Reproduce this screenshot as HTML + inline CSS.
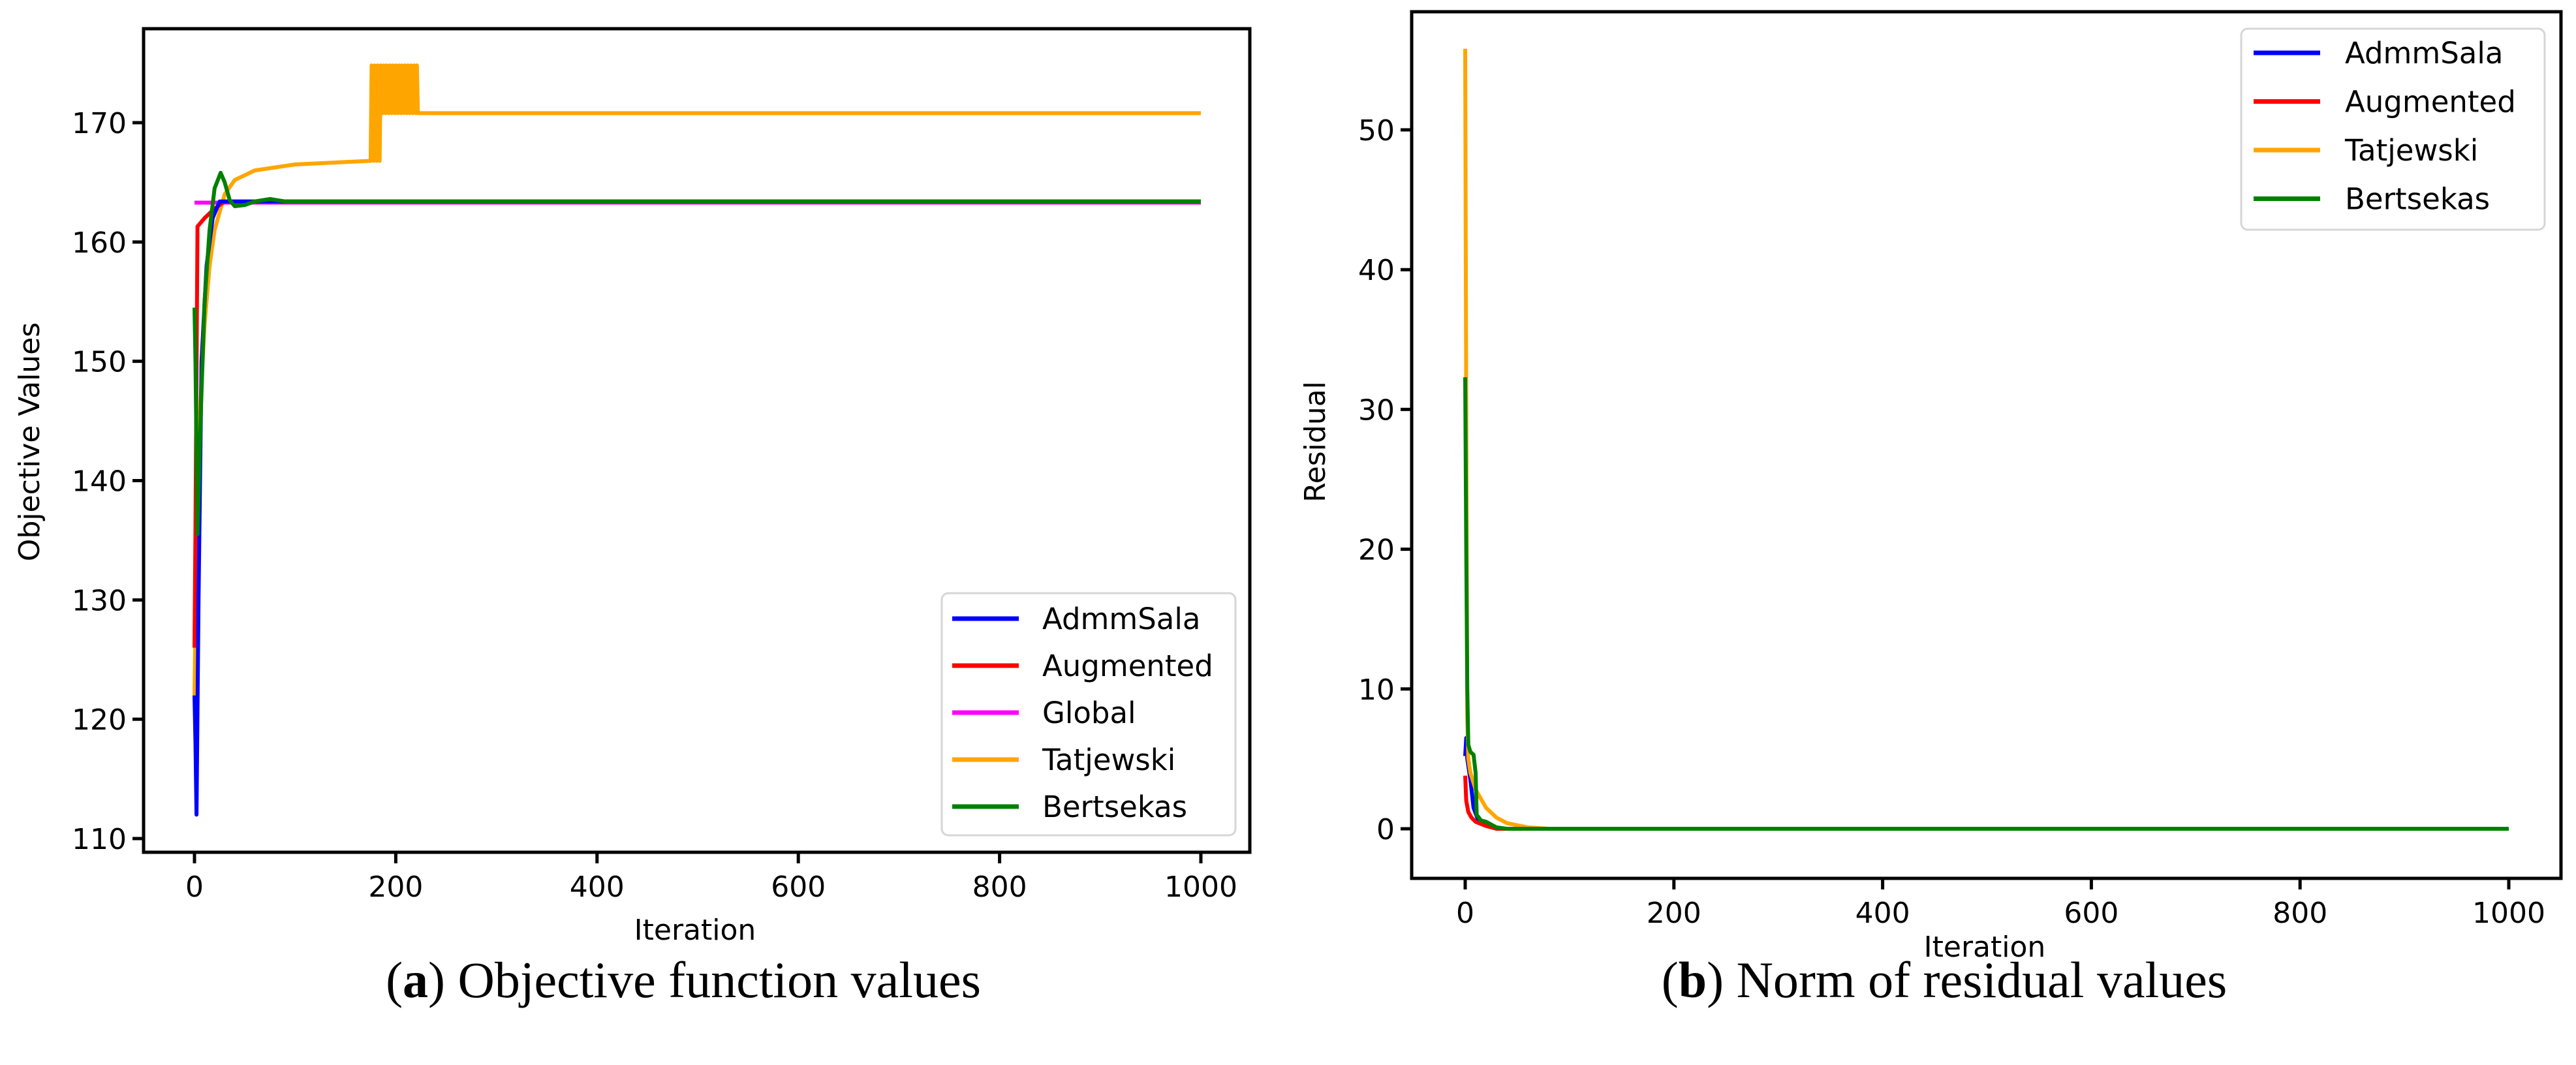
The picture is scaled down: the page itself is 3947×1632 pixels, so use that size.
<!DOCTYPE html>
<html><head><meta charset="utf-8"><style>
html,body{margin:0;padding:0;background:#fff;}
svg{display:block;}
.tk{font-family:"DejaVu Sans","Liberation Sans",sans-serif;font-size:44px;fill:#000;}
.lg{font-family:"DejaVu Sans","Liberation Sans",sans-serif;font-size:45px;fill:#000;}
.cap{font-family:"Liberation Serif",serif;font-size:78px;fill:#000;}
</style></head><body>
<svg id="fig" width="3947" height="1632" viewBox="0 0 3947 1632" xmlns="http://www.w3.org/2000/svg">
<rect width="3947" height="1632" fill="#fff"/>
<g id="chartA"></g>
<g id="chartB"></g>
<text class="cap" x="1047" y="1528" text-anchor="middle">(<tspan font-weight="bold">a</tspan>) Objective function values</text>
<text class="cap" x="2979" y="1528" text-anchor="middle">(<tspan font-weight="bold">b</tspan>) Norm of residual values</text>
</svg>
<script>
// ---- Chart A data ----
const xTicksA = [0, 200, 400, 600, 800, 1000];
const yTicksA = [110, 120, 130, 140, 150, 160, 170];
const admmX = [0, 1, 2, 4, 7, 12, 18, 25, 1000];
const admmY = [122, 118, 112, 130, 150, 158, 162, 163.4, 163.4];
const augX = [0, 1, 3, 10, 20, 30, 1000];
const augY = [126, 136, 161.3, 162, 162.8, 163.4, 163.4];
const globX = [0, 1000];
const globY = [163.3, 163.3];
const tatX = [0, 2, 5, 10, 15, 20, 30, 40, 60, 100, 150, 175, 176, 178, 179, 181, 182, 184, 185, 187, 188, 190, 191, 193, 194, 196, 197, 199, 200, 202, 203, 205, 206, 208, 209, 211, 212, 214, 215, 217, 218, 220, 221, 222, 1000];
const tatY = [122, 135, 145, 153, 158, 161, 164, 165.2, 166, 166.5, 166.7, 166.8, 174.8, 166.8, 174.8, 166.8, 174.8, 166.8, 174.8, 170.8, 174.8, 170.8, 174.8, 170.8, 174.8, 170.8, 174.8, 170.8, 174.8, 170.8, 174.8, 170.8, 174.8, 170.8, 174.8, 170.8, 174.8, 170.8, 174.8, 170.8, 174.8, 170.8, 174.8, 170.8, 170.8];
const berX = [0, 1, 3, 6, 10, 15, 20, 26, 30, 35, 40, 50, 60, 75, 90, 1000];
const berY = [154.5, 150, 135.5, 145, 155, 161, 164.5, 165.8, 165, 163.5, 163, 163.1, 163.4, 163.6, 163.4, 163.4];
// ---- Chart B data ----
const xTicksB = [0, 200, 400, 600, 800, 1000];
const yTicksB = [0, 10, 20, 30, 40, 50];
const rAdmmX = [0, 1, 2, 5, 8, 12, 20, 30, 1000];
const rAdmmY = [5.2, 6.5, 5, 3.5, 1.5, 0.7, 0.3, 0, 0];
const rAugX = [0, 1, 3, 6, 10, 20, 30, 1000];
const rAugY = [3.8, 2, 1.2, 0.8, 0.5, 0.2, 0, 0];
const rTatX = [0, 1, 2, 3, 5, 10, 20, 30, 40, 60, 80, 1000];
const rTatY = [55.8, 30, 8, 5, 4, 2.8, 1.5, 0.8, 0.4, 0.1, 0, 0];
const rBerX = [0, 1, 2, 3, 5, 8, 10, 11, 15, 20, 30, 40, 1000];
const rBerY = [32.3, 20, 10, 6, 5.5, 5.3, 4, 1, 0.6, 0.5, 0.1, 0, 0];

const NS = "http://www.w3.org/2000/svg";
function mk(tag, attrs, parent) {
  const e = document.createElementNS(NS, tag);
  for (const k in attrs) e.setAttribute(k, attrs[k]);
  parent.appendChild(e);
  return e;
}
function makeScale(d0, d1, p0, p1) { return v => p0 + (v - d0) * (p1 - p0) / (d1 - d0); }

function drawChart(g, cfg) {
  const sx = makeScale(cfg.x0v, cfg.x1v, cfg.x0p, cfg.x1p);
  const sy = makeScale(cfg.y0v, cfg.y1v, cfg.y0p, cfg.y1p);
  const B = cfg.box;
  cfg.series.forEach(s => {
    const pts = s.x.map((v, i) => sx(v).toFixed(1) + "," + sy(s.y[i]).toFixed(1)).join(" ");
    const pl = mk("polyline", {points: pts, fill: "none", stroke: s.color, "stroke-width": 6, "stroke-linejoin": "round"}, g);
    
    
  });
  const fr = mk("rect", {x: B[0], y: B[1], width: B[2] - B[0], height: B[3] - B[1], fill: "none", stroke: "#000", "stroke-width": 5}, g);
  
  
  cfg.xt.forEach(v => {
    const x = sx(v);
    const t = mk("line", {x1: x, x2: x, y1: B[3], y2: B[3] + 17, stroke: "#000", "stroke-width": 5}, g);
    
    
    const l = mk("text", {x: x, y: B[3] + 68, "text-anchor": "middle", class: "tk"}, g);
    l.textContent = v;
    
    
  });
  cfg.yt.forEach(v => {
    const y = sy(v);
    const t = mk("line", {x1: B[0] - 17, x2: B[0], y1: y, y2: y, stroke: "#000", "stroke-width": 5}, g);
    
    
    const l = mk("text", {x: B[0] - 26, y: y + 16, "text-anchor": "end", class: "tk"}, g);
    l.textContent = v;
    
    
  });
  const xl = mk("text", {x: cfg.xlab[0], y: cfg.xlab[1], "text-anchor": "middle", class: "tk"}, g);
  xl.textContent = "Iteration";
  
  
  const yl = mk("text", {x: 0, y: 0, "text-anchor": "middle", class: "tk", transform: "translate(" + cfg.ylab[0] + "," + cfg.ylab[1] + ") rotate(-90)"}, g);
  yl.textContent = cfg.ytitle;
  
  
  const L = cfg.leg;
  const lb = mk("rect", {x: L.x, y: L.y, width: L.w, height: L.h, rx: 10, fill: "#fff", "fill-opacity": 0.8, stroke: "#d6d6d6", "stroke-width": 3}, g);
  
  
  cfg.series.filter(s => s.leg).forEach((s, i) => {
    const y = L.first + i * L.step;
    const ln = mk("line", {x1: L.lx0, x2: L.lx1, y1: y, y2: y, stroke: s.color, "stroke-width": 7}, g);
    
    
    const tx = mk("text", {x: L.tx, y: y + 16, class: "lg"}, g);
    tx.textContent = s.label;
    
    
  });
}

drawChart(document.getElementById("chartA"), {
  x0v: 0, x1v: 1000, x0p: 298, x1p: 1840,
  y0v: 110, y1v: 170, y0p: 1285, y1p: 188,
  box: [220, 44, 1915, 1306],
  xt: xTicksA, yt: yTicksA,
  xlab: [1065, 1440], ylab: [60, 677], ytitle: "Objective Values",
  series: [
    {name: "global", label: "Global", color: "#ff00ff", x: globX, y: globY, leg: false},
    {name: "tatjewski", label: "Tatjewski", color: "#ffa500", x: tatX, y: tatY, leg: false},
    {name: "augmented", label: "Augmented", color: "#ff0000", x: augX, y: augY, leg: false},
    {name: "admmsala", label: "AdmmSala", color: "#0000ff", x: admmX, y: admmY, leg: false},
    {name: "bertsekas", label: "Bertsekas", color: "#008000", x: berX, y: berY, leg: false}
  ],
  leg: {x: 1443, y: 909, w: 450, h: 371, first: 948, step: 72, lx0: 1459, lx1: 1561, tx: 1597}
});
(function(){
  const g = document.getElementById("chartA");
  const items = [["AdmmSala","#0000ff"],["Augmented","#ff0000"],["Global","#ff00ff"],["Tatjewski","#ffa500"],["Bertsekas","#008000"]];
  items.forEach((it, i) => {
    const y = 948 + i * 72;
    const ln = mk("line", {x1: 1459, x2: 1561, y1: y, y2: y, stroke: it[1], "stroke-width": 7}, g);
    
    
    const tx = mk("text", {x: 1597, y: y + 16, class: "lg"}, g);
    tx.textContent = it[0];
    
    
  });
})();

drawChart(document.getElementById("chartB"), {
  x0v: 0, x1v: 1000, x0p: 2245, x1p: 3844,
  y0v: 0, y1v: 50, y0p: 1270, y1p: 199,
  box: [2163, 18, 3924, 1346],
  xt: xTicksB, yt: yTicksB,
  xlab: [3041, 1466], ylab: [2030, 677], ytitle: "Residual",
  series: [
    {name: "admmsala", label: "AdmmSala", color: "#0000ff", x: rAdmmX, y: rAdmmY, leg: true},
    {name: "augmented", label: "Augmented", color: "#ff0000", x: rAugX, y: rAugY, leg: true},
    {name: "tatjewski", label: "Tatjewski", color: "#ffa500", x: rTatX, y: rTatY, leg: true},
    {name: "bertsekas", label: "Bertsekas", color: "#008000", x: rBerX, y: rBerY, leg: true}
  ],
  leg: {x: 3434, y: 44, w: 465, h: 308, first: 81, step: 74.5, lx0: 3453, lx1: 3555, tx: 3593}
});
</script>
</body></html>
